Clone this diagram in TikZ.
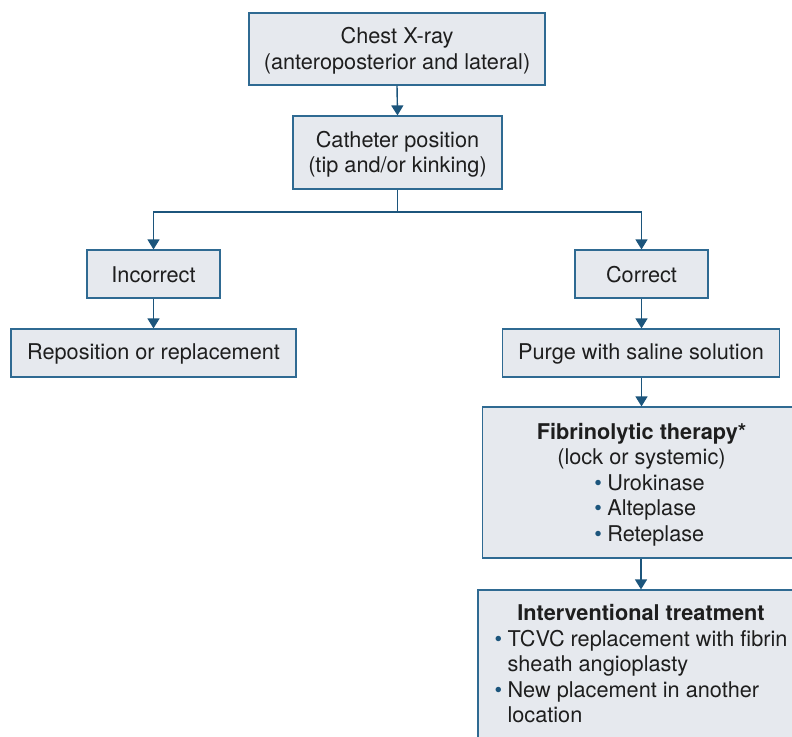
\documentclass[tikz,border=0pt]{standalone}
\usepackage{fontspec}
\setmainfont{TeX Gyre Heros}
\usetikzlibrary{arrows.meta}
\definecolor{boxfill}{HTML}{E6E9EE}
\definecolor{boxdraw}{HTML}{2F6A92}
\definecolor{linec}{HTML}{1C557C}
\definecolor{txt}{HTML}{1E1E1E}
\newcommand{\bul}{\makebox[13pt][l]{\textcolor{linec}{\textbullet}}}
\newcommand{\lowr}[2][-2.5pt]{\raisebox{#1}[\height][\depth]{#2}}
\tikzset{
  box/.style={draw=boxdraw, line width=1.2pt, fill=boxfill, text=txt, align=center, inner sep=0pt,
    font=\fontsize{21.7}{25.5}\selectfont},
  arr/.style={draw=linec, line width=1.4pt, -{Triangle[width=12pt,length=10pt]}},
  ln/.style={draw=linec, line width=1.4pt}
}
\begin{document}
\begin{tikzpicture}[x=1pt,y=-1pt]
\useasboundingbox (0,0) rectangle (792,736);
\clip (0,0) rectangle (792,736);
\fill[white] (0,0) rectangle (792,736);
\node[box, minimum width=296pt, minimum height=72pt] (xray) at (397,49) {\lowr{\begin{tabular}{@{}c@{}}Chest X-ray\\(anteroposterior and lateral)\end{tabular}}};
\node[box, minimum width=209pt, minimum height=73pt] (cath) at (397.5,152.5) {\lowr{\begin{tabular}{@{}c@{}}Catheter position\\(tip and/or kinking)\end{tabular}}};
\coordinate (split) at (397.5,212);
\node[box, minimum width=133pt, minimum height=48pt] (inc) at (153.5,274) {\lowr[-1pt]{Incorrect}};
\node[box, minimum width=133pt, minimum height=48pt] (cor) at (641.5,274) {\lowr[-1pt]{Correct}};
\node[box, minimum width=285pt, minimum height=48pt] (repo) at (153.5,353) {\lowr[-1pt]{Reposition or replacement}};
\node[box, minimum width=277pt, minimum height=48pt] (purge) at (641,353) {\lowr[-1pt]{Purge with saline solution}};
\node[box, minimum width=318pt, minimum height=151pt] (fib) at (641.5,482.5) {%
  \lowr{\begin{tabular}{@{}c@{}}\textbf{Fibrinolytic therapy*}\\(lock or systemic)\\
  \hspace*{16pt}\begin{tabular}{@{}l@{}}\bul Urokinase\\ \bul Alteplase\\ \bul Reteplase\end{tabular}\end{tabular}}};
\node[box, minimum width=326pt, minimum height=148pt] (inter) at (641,664) {%
  \lowr{\begin{tabular}{@{}c@{}}\textbf{Interventional treatment}\\
  \begin{tabular}{@{}l@{}}\bul TCVC replacement with fibrin\\ \hspace*{13pt}sheath angioplasty\\ \bul New placement in another\\ \hspace*{13pt}location\end{tabular}\end{tabular}}};
\draw[arr] (xray.south) -- (cath.north);
\draw[ln] (cath.south) -- (split);
\draw[arr] (split) -| (inc.north);
\draw[arr] (split) -| (cor.north);
\draw[arr] (inc.south) -- (repo.north -| inc.south);
\draw[arr] (cor.south) -- (purge.north -| cor.south);
\draw[arr] (purge.south -| fib.north) -- (fib.north);
\draw[arr] (fib.south -| inter.north) -- (inter.north);
\end{tikzpicture}
\end{document}
